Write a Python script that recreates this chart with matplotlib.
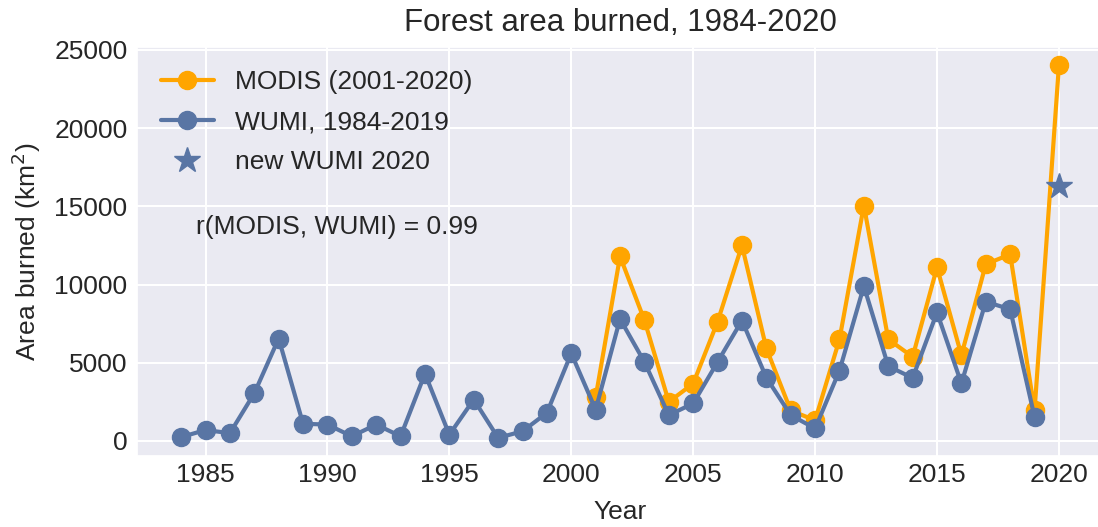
import numpy as np
import matplotlib
matplotlib.use("Agg")
import matplotlib.pyplot as plt
import seaborn as sns

# WUMI burned area, 1984-2019 (km^2)
wumi_years = np.arange(1984, 2020)
wumi_area = [250, 700, 500, 3050, 6550, 1100, 1050, 300, 1050, 300,
             4300, 400, 2650, 200, 620, 1800, 5600, 2000, 7800, 5050,
             1650, 2400, 5050, 7700, 4050, 1650, 800, 4500, 9900, 4780,
             4030, 8220, 3680, 8900, 8420, 1530]

# MODIS burned area, 2001-2020 (km^2)
modis_years = np.arange(2001, 2021)
modis_area = [2800, 11800, 7720, 2500, 3670, 7620, 12500, 5920, 1950, 1320,
              6500, 15050, 6500, 5380, 11100, 5480, 11300, 11930, 1950, 24020]

# new WUMI estimate for 2020
new_year = [2020]
new_area = [16270]

r_text = "r(MODIS, WUMI) = 0.99"

sns.set_theme(style="darkgrid")
plt.rcParams["font.family"] = ["Liberation Sans", "DejaVu Sans"]
plt.rcParams["grid.linewidth"] = 1.5

blue = "#5975a4"
orange = "orange"

fig = plt.figure(figsize=(10.98, 5.27), dpi=100)
ax = fig.add_axes([0.125, 0.1338, 0.8794, 0.7778])

ax.plot(modis_years, modis_area, "-o", color=orange, lw=3, ms=13,
        label="MODIS (2001-2020)")
ax.plot(wumi_years, wumi_area, "-o", color=blue, lw=3, ms=13,
        label="WUMI, 1984-2019")
ax.plot(new_year, new_area, "*", color=blue, ms=19, ls="none",
        label="new WUMI 2020")

ax.text(1984.6, 13700, r_text, fontsize=19, va="center", ha="left")

ax.set_xticks(np.arange(1985, 2021, 5))
ax.set_yticks(np.arange(0, 25001, 5000))
ax.tick_params(labelsize=19, length=0)
ax.tick_params(axis="x", pad=5)
ax.tick_params(axis="y", pad=7)
ax.set_xlabel("Year", fontsize=19, labelpad=9)
ax.set_ylabel("Area burned (km$^2$)", fontsize=19, labelpad=8)
ax.set_title("Forest area burned, 1984-2020", fontsize=22.5, pad=11)

ax.legend(loc="upper left", fontsize=19, frameon=False, labelspacing=0.6)

fig.savefig("out.png", dpi=100)
